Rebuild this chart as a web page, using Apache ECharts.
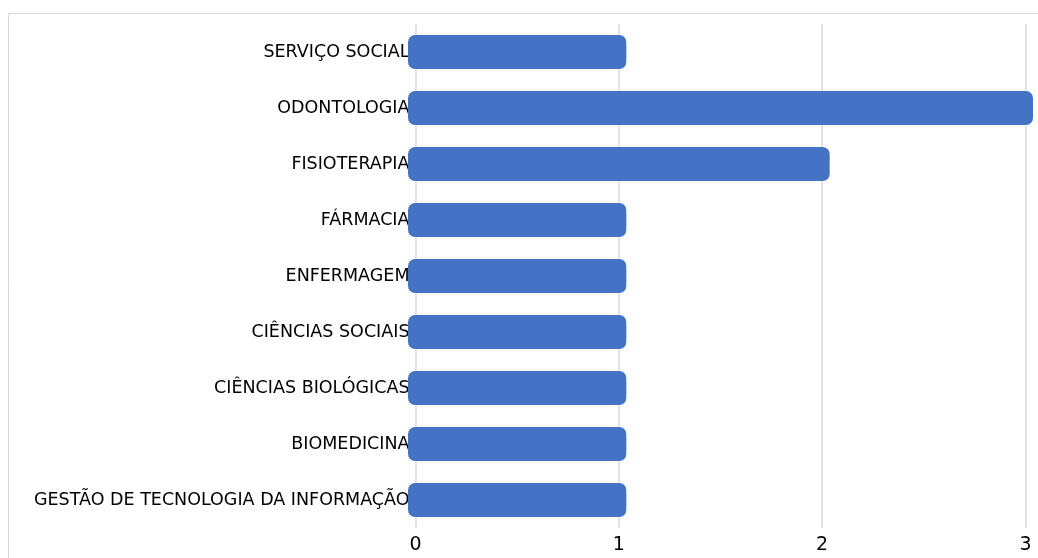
<!DOCTYPE html>
<html>
<head>
<meta charset="utf-8">
<script src="https://cdn.jsdelivr.net/npm/echarts@6/dist/echarts.min.js"></script>
<style>
  html, body { margin: 0; padding: 0; background: #fff; }
  #chart { width: 1038px; height: 558px; }
</style>
</head>
<body>
<div id="chart"></div>
<script>
// courses, top to bottom
const courses = [
    'SERVIÇO SOCIAL',
    'ODONTOLOGIA',
    'FISIOTERAPIA',
    'FÁRMACIA',
    'ENFERMAGEM',
    'CIÊNCIAS SOCIAIS',
    'CIÊNCIAS BIOLÓGICAS',
    'BIOMEDICINA',
    'GESTÃO DE TECNOLOGIA DA INFORMAÇÃO'
];
const counts = [1, 3, 2, 1, 1, 1, 1, 1, 1];
const xTicks = [0, 1, 2, 3];

const barColor = '#4472C4';
const chart = echarts.init(document.getElementById('chart'));

// bar with the thick rounded outline look (sticks out ~7px past the value on both ends)
function renderBar(params, api) {
    const idx = api.value(1);
    const start = api.coord([0, idx]);
    const end = api.coord([api.value(0), idx]);
    const pad = 7.5;
    const h = 34;
    return {
        type: 'rect',
        shape: {
            x: start[0] - pad,
            y: start[1] - h / 2,
            width: end[0] - start[0] + pad * 2,
            height: h,
            r: 7
        },
        style: { fill: barColor }
    };
}

const option = {
    animation: false,
    textStyle: { fontFamily: 'DejaVu Sans' },
    graphic: [
        {
            type: 'rect',
            shape: { x: 8.5, y: 13.5, width: 1100, height: 600 },
            style: { fill: 'none', stroke: '#d9d9d9', lineWidth: 1 },
            silent: true
        }
    ],
    grid: {
        left: 415.5,
        right: 12.5,
        top: 24,
        bottom: 30,
        containLabel: false
    },
    xAxis: {
        type: 'value',
        min: xTicks[0],
        max: xTicks[xTicks.length - 1],
        interval: 1,
        axisLine: { show: false },
        axisTick: { show: false },
        axisLabel: {
            color: '#000',
            fontSize: 19,
            margin: 8
        },
        splitLine: { show: true, lineStyle: { color: '#d9d9d9', width: 1.5 } }
    },
    yAxis: {
        type: 'category',
        data: courses,
        inverse: true,
        axisLine: { show: false },
        axisTick: { show: false },
        axisLabel: {
            color: '#000',
            fontSize: 17.5,
            margin: 6,
            padding: [3, 0, 0, 0]
        },
        splitLine: { show: false }
    },
    series: [
        {
            type: 'custom',
            renderItem: renderBar,
            encode: { x: 0, y: 1 },
            data: counts.map((v, i) => [v, i])
        }
    ]
};

chart.setOption(option);
</script>
</body>
</html>
